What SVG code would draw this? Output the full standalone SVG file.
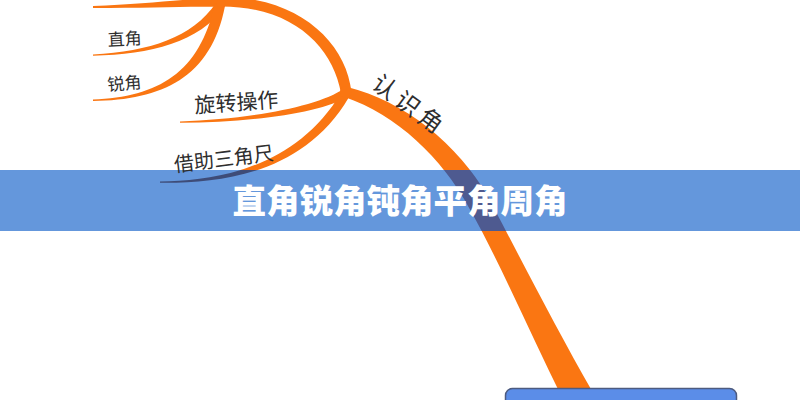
<svg xmlns="http://www.w3.org/2000/svg" width="800" height="400" viewBox="0 0 800 400">
  <style>
    .br { fill: #FA7612; }
    .lbl { font-family: "Noto Sans CJK SC", "Noto Sans", sans-serif; fill: #2E2E2E; font-weight: 400; }
    .title { font-family: "Noto Sans CJK SC", "Noto Sans", sans-serif; fill: #FFFFFF; font-weight: 900; font-size: 33.5px; }
  </style>
  <defs>
    <clipPath id="bannerClip">
      <rect x="0" y="170" width="800" height="61"/>
    </clipPath>
  </defs>
  <rect width="800" height="400" fill="#FFFFFF"/>

  <g id="connectors">
    <path id="b-top" class="br" d="M93,6 C150,4 190,-2 224,-2 L222,7 C190,6 150,8 93,8 Z"/>
    <path id="b-zhijiao" class="br" d="M93,54.5 C150,51 192,38 216,3 L225,6 C199,43 151,54 93,55.8 Z"/>
    <path id="b-ruijiao" class="br" d="M93,99.5 C158,97 200,73 215,3 L225,6 C211,78 162,100 93,101 Z"/>
    <path id="b-upper" class="br" d="M220,-3 C298,-4 346,42 351.5,92 L341,93 C333,48 294,6 220,6.5 Z"/>
    <path id="b-xuanzhuan" class="br" d="M180,121.5 C250,119 318,107 344.5,88.3 L349.5,95.7 C322,113 251,122.5 180,122.8 Z"/>
    <path id="b-jiezhu" class="br" d="M160,181.5 C220,181 297,166 341.1,92.7 L348.9,97.3 C304,174 221,183.5 160,182.8 Z"/>
    <path id="b-main" class="br" d="M347.3,87 C403.5,101 458,143 489.5,199.5 C518.8,255.2 556.4,328.8 593.2,393 L596,405 L566.8,407 C533.6,341.2 501.2,264.8 470.5,210.5 C442,157 396.5,115 344.7,97 Z"/>
    <circle class="br" cx="346" cy="92" r="6"/>
    <circle class="br" cx="221" cy="3" r="4.5"/>
  </g>

  <g id="banner">
    <rect x="0" y="170" width="800" height="61" fill="#6497DC"/>
    <g clip-path="url(#bannerClip)">
      <path fill="#4E5A90" d="M347.3,87 C403.5,101 458,143 489.5,199.5 C518.8,255.2 556.4,328.8 593.2,393 L596,405 L566.8,407 C533.6,341.2 501.2,264.8 470.5,210.5 C442,157 396.5,115 344.7,97 Z"/>
      <path fill="#3E4C78" d="M160,181.5 C220,181 297,166 341.1,92.7 L348.9,97.3 C304,174 221,183.5 160,182.8 Z"/>
    </g>
    <text class="title" x="400" y="213" text-anchor="middle">直角锐角钝角平角周角</text>
  </g>

  <g id="node-zhijiao">
    <text class="lbl" font-size="17" x="108" y="46" transform="rotate(-3 108 46)">直角</text>
  </g>
  <g id="node-ruijiao">
    <text class="lbl" font-size="17" x="108" y="91" transform="rotate(-5 108 91)">锐角</text>
  </g>
  <g id="node-xuanzhuan">
    <text class="lbl" font-size="21" x="195" y="113" transform="rotate(-4 195 113)">旋转操作</text>
  </g>
  <g id="node-jiezhu">
    <text class="lbl" font-size="20" x="175" y="172" transform="rotate(-7 175 172)">借助三角尺</text>
  </g>
  <g id="node-renshijiao">
    <text class="lbl" font-size="24" letter-spacing="4.5" x="370" y="87" transform="rotate(36 370 87)">认识角</text>
  </g>

  <g id="node-root">
    <rect x="505.5" y="388.5" width="231" height="30" rx="7" ry="7" fill="#5B8DE8" stroke="#4D5B80" stroke-width="1.5"/>
  </g>
</svg>
